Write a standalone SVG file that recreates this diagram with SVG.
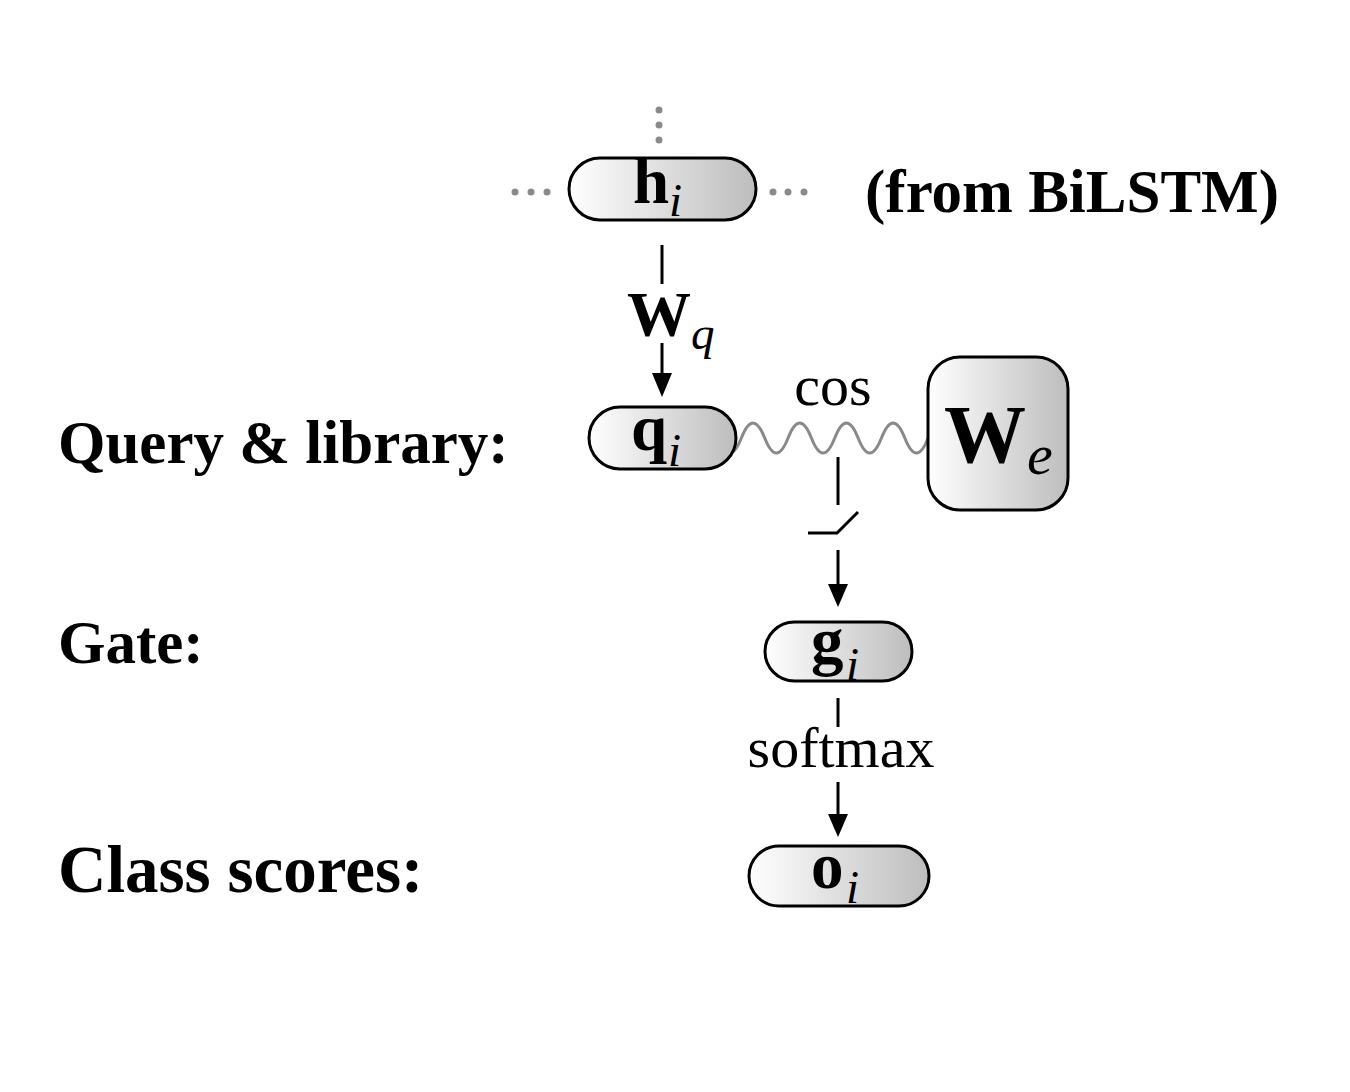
<svg xmlns="http://www.w3.org/2000/svg" width="1350" height="1092" viewBox="0 0 1350 1092">
<defs>
<linearGradient id="g" x1="0" y1="0" x2="1" y2="0">
<stop offset="0" stop-color="#ffffff"/>
<stop offset="1" stop-color="#bdbdbd"/>
</linearGradient>
<style>
.box{fill:url(#g);stroke:#000;stroke-width:3}
.t{font-family:"Liberation Serif","Times New Roman",serif;fill:#000}
.b{font-family:"Liberation Serif","Times New Roman",serif;font-weight:bold;font-size:65px;fill:#000}
.it{font-family:"Liberation Serif","Times New Roman",serif;font-style:italic;font-size:47px;fill:#000}
.lbl{font-family:"Liberation Serif","Times New Roman",serif;font-weight:bold;font-size:61px;fill:#000}
.ln{stroke:#000;stroke-width:3;fill:none}
.dot{fill:#8a8a8a}
.ah{fill:#000}
</style>
</defs>
<rect width="1350" height="1092" fill="#fff"/>

<g id="connectors">
<circle class="dot" cx="659" cy="110" r="3.5"/>
<circle class="dot" cx="659" cy="125" r="3.5"/>
<circle class="dot" cx="659" cy="140" r="3.5"/>
<circle class="dot" cx="515" cy="192" r="3.5"/>
<circle class="dot" cx="531" cy="192" r="3.5"/>
<circle class="dot" cx="547" cy="192" r="3.5"/>
<circle class="dot" cx="773" cy="192" r="3.5"/>
<circle class="dot" cx="788" cy="192" r="3.5"/>
<circle class="dot" cx="804" cy="192" r="3.5"/>
<line class="ln" x1="662" y1="245" x2="662" y2="284"/>
<line class="ln" x1="662" y1="343" x2="662" y2="375"/>
<path class="ah" d="M652,373 L672,373 L662,397 z"/>
<path d="M718,438 q11.675,30 23.35,0 t23.35,0 t23.35,0 t23.35,0 t23.35,0 t23.35,0 t23.35,0 t23.35,0 t23.35,0" fill="none" stroke="#8a8a8a" stroke-width="3"/>
<line class="ln" x1="838" y1="457" x2="838" y2="505"/>
<path d="M808,533 L837,533 L858,512" class="ln" stroke-width="4.5"/>
<line class="ln" x1="838" y1="550" x2="838" y2="586"/>
<path class="ah" d="M828,584 L848,584 L838,607 z"/>
<line class="ln" x1="838" y1="698" x2="838" y2="727"/>
<line class="ln" x1="838" y1="782" x2="838" y2="816"/>
<path class="ah" d="M828,814 L848,814 L838,837 z"/>
</g>

<g id="node-h">
<rect class="box" x="569" y="158" width="187" height="62" rx="31"/>
<text class="b" x="633" y="203">h</text>
<text class="it" x="669" y="216">i</text>
</g>
<text id="from" class="lbl" x="865" y="212">(from BiLSTM)</text>

<g id="label-wq">
<text class="b" x="627" y="336" style="font-size:64px">W</text>
<text class="it" x="691" y="349">q</text>
</g>

<g id="node-q">
<rect class="box" x="589" y="407" width="147" height="62" rx="31"/>
<text class="b" x="631" y="450">q</text>
<text class="it" x="668" y="466">i</text>
</g>
<text class="t" x="833" y="405" text-anchor="middle" font-size="58">cos</text>

<g id="node-we">
<rect class="box" x="928" y="357" width="140" height="153" rx="32"/>
<text class="b" x="944" y="462" style="font-size:82px">W</text>
<text class="it" x="1027" y="474" style="font-size:58px">e</text>
</g>

<g id="node-g">
<rect class="box" x="765" y="622" width="147" height="59" rx="29.5"/>
<text class="b" x="811" y="663">g</text>
<text class="it" x="846" y="680">i</text>
</g>
<text class="t" x="841" y="767" text-anchor="middle" font-size="58">softmax</text>

<g id="node-o">
<rect class="box" x="749" y="846" width="180" height="60" rx="30"/>
<text class="b" x="811" y="888">o</text>
<text class="it" x="846" y="903">i</text>
</g>

<text class="lbl" x="58" y="463">Query &amp; library:</text>
<text class="lbl" x="58" y="663">Gate:</text>
<text class="lbl" x="58" y="892" style="font-size:67px">Class scores:</text>
</svg>
